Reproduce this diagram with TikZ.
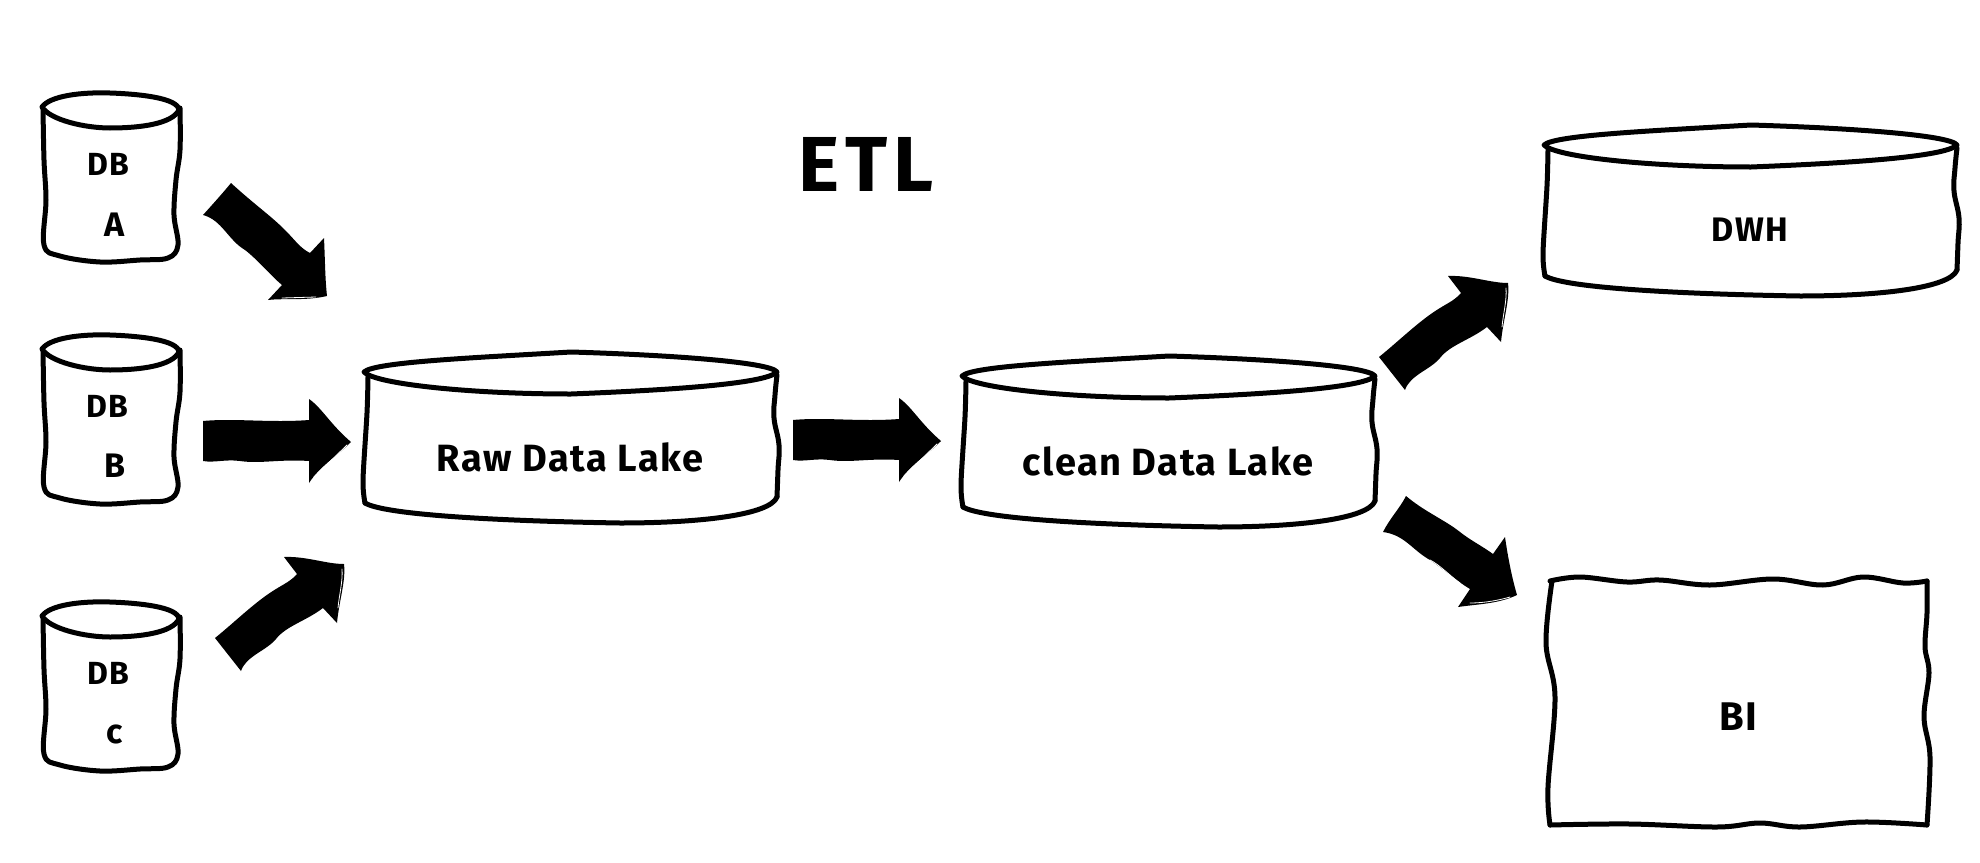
\documentclass[tikz,border=0pt]{standalone}
\usepackage{fontspec}
\setmainfont{Fira Sans}
\newfontfamily\wide[LetterSpace=4]{Fira Sans}
\newfontfamily\wider[LetterSpace=8]{Fira Sans}
\newcommand{\dbshape}{%
  \filldraw[sk] plot[smooth,tension=.6] coordinates {(43,108)(44,160)(46,200)(44,245)(60,256)(100,262)(140,260)(168,258)(178,245)(174,215)(176,180)(180,150)(180,108)};
  \draw[sk] (42,107) .. controls (50,96) and (80,92) .. (110,93) .. controls (140,94) and (178,98) .. (179,110) .. controls (172,124) and (140,128) .. (110,128) .. controls (85,128) and (50,120) .. (42,107) -- cycle;
}
\newcommand{\lakeshape}{%
  \draw[sk] plot[smooth,tension=.5] coordinates {(368,377)(367,413)(363,480)(365,503)};
  \draw[sk] (365,503) .. controls (385,515) and (500,521) .. (620,523) .. controls (700,523) and (770,515) .. (777,497);
  \draw[sk] plot[smooth,tension=.7] coordinates {(777,497)(778,470)(779,445)(774,418)(775,395)(777,375)};
  \draw[sk] (364,372) .. controls (375,362) and (470,358) .. (571,352) .. controls (670,355) and (770,362) .. (777,372) .. controls (765,384) and (670,390) .. (571,394) .. controls (470,394) and (375,384) .. (364,372) -- cycle;
}
\newcommand{\arrowB}{%
  \fill (203,421) .. controls (235,418) and (270,423) .. (309,420) -- (309,399) .. controls (322,408) and (330,424) .. (351,442) .. controls (335,458) and (320,466) .. (309,483) -- (309,461) .. controls (280,459) and (260,464) .. (240,461) .. controls (225,459) and (215,463) .. (203,461) -- cycle;
  \draw[sliver] (347,445) -- (314,477);
}
\newcommand{\arrowUp}{%
  \fill (1379,357) .. controls (1400,340) and (1420,320) .. (1440,308) .. controls (1448,303) and (1455,300) .. (1461,293) -- (1448,276) .. controls (1470,275) and (1490,283) .. (1508,283) .. controls (1510,300) and (1503,320) .. (1501,342) -- (1487,327) .. controls (1470,340) and (1450,345) .. (1440,358) .. controls (1430,370) and (1410,375) .. (1405,390) -- cycle;
  \draw[sliver] (1506,288) .. controls (1507,300) and (1503,315) .. (1502,327);
  \draw[sliver] (1448,355) .. controls (1460,345) and (1470,340) .. (1483,332);
}
\tikzset{
  sk/.style={draw=black,fill=white,line width=5pt,line cap=round,line join=round},
  sliver/.style={draw=white,line width=.8pt,line cap=round},
  lbl/.style={inner sep=0pt,font=\wide\fontsize{#1}{#1}\selectfont\bfseries},
}
\begin{document}
\begin{tikzpicture}[x=1pt,y=-1pt]
\useasboundingbox (0,0) rectangle (1980,862);
\fill[white] (0,0) rectangle (1980,862);
% source databases
\begin{scope}\dbshape\end{scope}
\begin{scope}[shift={(0,242)}]\dbshape\end{scope}
\begin{scope}[shift={(0,509)}]\dbshape\end{scope}
% lakes and warehouse
\begin{scope}\lakeshape\end{scope}
\begin{scope}[shift={(598,4)}]\lakeshape\end{scope}
\begin{scope}[shift={(1180,-227)}]\lakeshape\end{scope}
% BI box
\draw[sk,fill=none] plot[smooth,tension=.6] coordinates {(1550,581)(1580,577)(1627,582)(1660,580)(1710,585)(1773,579)(1823,585)(1863,577)(1903,583)(1927,581)};
\draw[sk,fill=none] plot[smooth,tension=.6] coordinates {(1927,581)(1927,613)(1925,647)(1929,673)(1924,717)(1930,757)(1927,825)};
\draw[sk,fill=none] plot[smooth,tension=.6] coordinates {(1927,825)(1863,822)(1800,827)(1760,823)(1717,827)(1630,824)(1550,825)};
\draw[sk,fill=none] plot[smooth,tension=.6] coordinates {(1550,825)(1548,787)(1555,697)(1546,643)(1552,581)};
% arrows
\fill (203,215) .. controls (212,205) and (222,194) .. (231,183) .. controls (255,205) and (270,215) .. (285,230) .. controls (295,240) and (300,248) .. (310,253) -- (324,238) .. controls (325,258) and (325,278) .. (327,296) .. controls (305,301) and (285,298) .. (268,300) -- (282,285) .. controls (270,275) and (258,260) .. (245,250) .. controls (228,240) and (222,220) .. (203,215) -- cycle;
\draw[sliver] (243,250) -- (268,273);
\draw[sliver] (282,298) -- (316,297);
\begin{scope}\arrowB\end{scope}
\begin{scope}[shift={(590,-1)}]\arrowB\end{scope}
\begin{scope}[shift={(-1164,281)}]\arrowUp\end{scope}
\begin{scope}\arrowUp\end{scope}
\fill (1383,532) .. controls (1390,518) and (1400,508) .. (1406,496) .. controls (1425,512) and (1445,520) .. (1460,532) .. controls (1470,540) and (1482,546) .. (1493,554) -- (1505,537) .. controls (1508,558) and (1512,578) .. (1517,595) .. controls (1498,604) and (1478,604) .. (1458,607) -- (1470,589) .. controls (1455,580) and (1445,570) .. (1430,560) .. controls (1412,550) and (1405,535) .. (1383,532) -- cycle;
\draw[sliver] (1430,560) .. controls (1440,565) and (1450,576) .. (1460,583);
\draw[sliver] (1470,603) .. controls (1485,603) and (1500,600) .. (1510,597);
% labels
\node[lbl=64,font=\wider\fontsize{78}{78}\selectfont\bfseries] (etl) at (866,164) {ETL};
\node[lbl=32] (dba) at (108,164) {DB};
\node[lbl=34] (a) at (115,225) {A};
\node[lbl=32] (dbb) at (107,406) {DB};
\node[lbl=34] (b) at (115,466) {B};
\node[lbl=32] (dbc) at (108,673) {DB};
\node[lbl=34] (c) at (115,734) {c};
\node[lbl=38] (raw) at (570,457) {Raw Data Lake};
\node[lbl=38] (clean) at (1168,461) {clean Data Lake};
\node[lbl=34] (dwh) at (1750,230) {DWH};
\node[lbl=40] (bi) at (1738,717) {BI};
\end{tikzpicture}
\end{document}
